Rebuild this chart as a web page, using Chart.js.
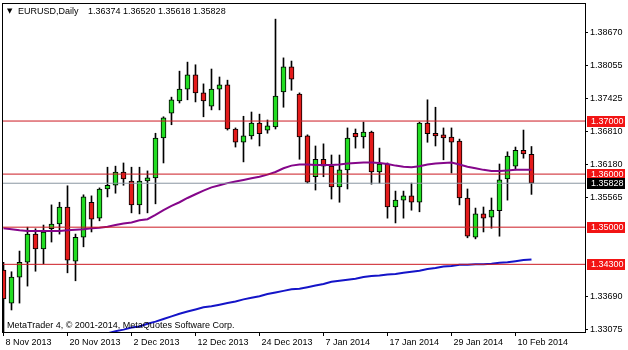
<!DOCTYPE html>
<html><head><meta charset="utf-8">
<script src="https://cdn.jsdelivr.net/npm/chart.js@4.4.1/dist/chart.umd.min.js"></script>
<style>html,body{margin:0;padding:0;background:#fff;overflow:hidden}#wrap{width:628px;height:350px}</style>
</head><body><div id="wrap"><canvas id="c" width="628" height="350"></canvas></div>
<script>
const symbol = "EURUSD,Daily";
const copyright = "MetaTrader 4, \u00a9 2001-2014, MetaQuotes Software Corp.";
const categories = ["8 Nov 2013","11 Nov 2013","12 Nov 2013","13 Nov 2013","14 Nov 2013","15 Nov 2013","18 Nov 2013","19 Nov 2013","20 Nov 2013","21 Nov 2013","22 Nov 2013","25 Nov 2013","26 Nov 2013","27 Nov 2013","28 Nov 2013","29 Nov 2013","2 Dec 2013","3 Dec 2013","4 Dec 2013","5 Dec 2013","6 Dec 2013","9 Dec 2013","10 Dec 2013","11 Dec 2013","12 Dec 2013","13 Dec 2013","16 Dec 2013","17 Dec 2013","18 Dec 2013","19 Dec 2013","20 Dec 2013","23 Dec 2013","24 Dec 2013","26 Dec 2013","27 Dec 2013","30 Dec 2013","31 Dec 2013","2 Jan 2014","3 Jan 2014","6 Jan 2014","7 Jan 2014","8 Jan 2014","9 Jan 2014","10 Jan 2014","13 Jan 2014","14 Jan 2014","15 Jan 2014","16 Jan 2014","17 Jan 2014","20 Jan 2014","21 Jan 2014","22 Jan 2014","23 Jan 2014","24 Jan 2014","27 Jan 2014","28 Jan 2014","29 Jan 2014","30 Jan 2014","31 Jan 2014","3 Feb 2014","4 Feb 2014","5 Feb 2014","6 Feb 2014","7 Feb 2014","10 Feb 2014","11 Feb 2014","12 Feb 2014"];
const tickLabels = ["8 Nov 2013","20 Nov 2013","2 Dec 2013","12 Dec 2013","24 Dec 2013","7 Jan 2014","17 Jan 2014","29 Jan 2014","10 Feb 2014"];
const opens  = [1.3419,1.3357,1.3406,1.3434,1.3487,1.3459,1.3497,1.3506,1.3538,1.3436,1.3481,1.3547,1.3517,1.3572,1.3579,1.3604,1.3587,1.3542,1.3587,1.3593,1.3668,1.3715,1.3738,1.3760,1.3787,1.3753,1.3728,1.3760,1.3768,1.3685,1.3660,1.3672,1.3696,1.3683,1.3689,1.3755,1.3802,1.3751,1.3672,1.3595,1.3628,1.3615,1.3576,1.3608,1.3677,1.3670,1.3679,1.3604,1.3619,1.3538,1.3551,1.3559,1.3547,1.3696,1.3677,1.3674,1.3670,1.3662,1.3555,1.3481,1.3525,1.3519,1.3531,1.3591,1.3615,1.3645,1.36374];
const highs  = [1.3434,1.3416,1.3455,1.3500,1.3497,1.3504,1.3542,1.3547,1.3578,1.3487,1.3561,1.3559,1.3574,1.3613,1.3615,1.3621,1.3613,1.3613,1.3606,1.3677,1.3708,1.3745,1.3794,1.3811,1.3806,1.3770,1.3798,1.3783,1.3777,1.3687,1.3709,1.3717,1.3713,1.3702,1.3892,1.3819,1.3813,1.3753,1.3674,1.3653,1.3657,1.3636,1.3636,1.3687,1.3685,1.3698,1.3681,1.3649,1.3621,1.3568,1.3568,1.3583,1.3698,1.3740,1.3726,1.3687,1.3687,1.3666,1.3572,1.3536,1.3538,1.3555,1.3619,1.3642,1.3651,1.3683,1.36520];
const lows   = [1.3296,1.3344,1.3357,1.3389,1.3417,1.3431,1.3472,1.3487,1.3414,1.3399,1.3463,1.3491,1.3512,1.3557,1.3564,1.3579,1.3527,1.3525,1.3527,1.3544,1.3621,1.3693,1.3734,1.3740,1.3736,1.3708,1.3721,1.3721,1.3683,1.3651,1.3623,1.3666,1.3653,1.3677,1.3685,1.3726,1.3758,1.3628,1.3583,1.3570,1.3595,1.3553,1.3547,1.3572,1.3649,1.3649,1.3581,1.3583,1.3517,1.3508,1.3517,1.3532,1.3529,1.3660,1.3653,1.3627,1.3602,1.3542,1.3480,1.3478,1.3491,1.3498,1.3483,1.3551,1.3608,1.3630,1.35618];
const closes = [1.3365,1.3406,1.3434,1.3487,1.3459,1.3491,1.3506,1.3538,1.3438,1.3481,1.3557,1.3515,1.3572,1.3579,1.3604,1.3591,1.3542,1.3587,1.3593,1.3668,1.3706,1.3740,1.3760,1.3787,1.3753,1.3738,1.3760,1.3768,1.3685,1.3660,1.3672,1.3696,1.3676,1.3691,1.3747,1.3802,1.3779,1.3670,1.3585,1.3628,1.3615,1.3576,1.3608,1.3668,1.3670,1.3679,1.3604,1.3619,1.3538,1.3551,1.3559,1.3547,1.3696,1.3676,1.3672,1.3668,1.3660,1.3555,1.3483,1.3525,1.3517,1.3532,1.3589,1.3634,1.3645,1.3638,1.35828];
const maPurple = [1.3498,1.3496,1.3494,1.3493,1.3493,1.3493,1.3493,1.3493,1.3494,1.3495,1.3496,1.3498,1.3499,1.3501,1.3504,1.3507,1.3509,1.3513,1.3515,1.3523,1.3532,1.3540,1.3547,1.3555,1.3562,1.3569,1.3575,1.3579,1.3583,1.3586,1.3589,1.3592,1.3595,1.3599,1.3604,1.3611,1.3616,1.3618,1.3618,1.3617,1.3617,1.3617,1.3618,1.3620,1.3621,1.3622,1.3622,1.3621,1.3619,1.3616,1.3614,1.3613,1.3615,1.3618,1.3620,1.3621,1.3622,1.3618,1.3614,1.3611,1.3608,1.3606,1.3606,1.3607,1.3608,1.3608,1.3608];
const maBlue = [null,null,null,null,null,null,null,null,null,null,null,null,1.3295,1.3300,1.3304,1.3307,1.3311,1.3313,1.3318,1.3322,1.3327,1.3332,1.3337,1.3341,1.3345,1.3349,1.3351,1.3354,1.3357,1.3360,1.3364,1.3367,1.3370,1.3374,1.3377,1.3380,1.3383,1.3384,1.3387,1.3390,1.3393,1.3397,1.3399,1.3401,1.3403,1.3406,1.3408,1.3409,1.3411,1.3412,1.3414,1.3416,1.3418,1.3421,1.3423,1.3426,1.3427,1.3429,1.3429,1.3430,1.3430,1.3431,1.3433,1.3434,1.3436,1.3438,1.3439];
const levels = [1.37000, 1.36000, 1.35000, 1.34300];
const priceTicks = [1.38670, 1.38055, 1.37425, 1.36810, 1.36180, 1.35565, 1.33690, 1.33075];

const X_MIN = -0.0625, X_MAX = 72.69, Y_MIN = 1.33025, Y_MAX = 1.39224;
const FONT = "'Liberation Sans', Arial, sans-serif";
const UP = '#22dd22', DOWN = '#e41b1b', LEVEL = '#cc1a22', BOX = '#f21414';
const last = closes.length - 1;
const bid = closes[last];

const idx = categories.map((_, i) => i);
const wickData = idx.map(i => ({x: i, y: [lows[i], highs[i]]}));
const bodyData = idx.map(i => ({x: i, y: [Math.min(opens[i], closes[i]), Math.max(opens[i], closes[i])]}));
const bodyColors = idx.map(i => closes[i] >= opens[i] ? UP : DOWN);
const hline = (v, color, order) => ({type: 'line', data: [{x: X_MIN, y: v}, {x: X_MAX, y: v}], borderColor: color, borderWidth: 1, pointRadius: 0, order});

Chart.defaults.font.family = FONT;
Chart.defaults.font.size = 9;
Chart.defaults.color = '#000';

const decor = {
  id: 'decor',
  afterDraw(chart) {
    const {ctx, chartArea: a, scales: {y}} = chart;
    ctx.save();
    ctx.strokeStyle = '#000'; ctx.lineWidth = 1;
    ctx.strokeRect(a.left - 0.5, a.top + 0.5, a.right - a.left + 1, a.bottom - a.top);
    // price boxes
    ctx.font = "9px " + FONT;
    ctx.textBaseline = 'middle'; ctx.textAlign = 'left';
    const box = (v, bg) => {
      const py = Math.round(y.getPixelForValue(v));
      ctx.fillStyle = bg; ctx.fillRect(a.right + 2, py - 5, 38, 11);
      ctx.fillStyle = '#fff'; ctx.fillText(v.toFixed(5), a.right + 6, py + 0.5);
    };
    levels.forEach(v => box(v, BOX));
    box(bid, '#000');
    // title
    ctx.fillStyle = '#000';
    ctx.textBaseline = 'alphabetic';
    ctx.font = "7px 'DejaVu Sans'";
    ctx.fillText('\u25BC', a.left + 4, a.top + 10);
    ctx.font = "9px " + FONT;
    ctx.fillText(symbol, a.left + 15, a.top + 11);
    ctx.fillText([opens[last], highs[last], lows[last], closes[last]].map(v => v.toFixed(5)).join(' '), a.left + 85, a.top + 11);
    ctx.fillText(copyright, a.left + 4, a.bottom - 4);
    ctx.restore();
  }
};

new Chart(document.getElementById('c'), {
  type: 'bar',
  data: {
    datasets: [
      hline(levels[0], LEVEL, 0), hline(levels[1], LEVEL, 0), hline(levels[2], LEVEL, 0), hline(levels[3], LEVEL, 0),
      hline(bid, '#8a96a2', 0),
      {type: 'line', data: idx.map(i => ({x: i, y: maPurple[i]})), borderColor: '#85068a', borderWidth: 2, pointRadius: 0, tension: 0, order: 1},
      {type: 'line', data: idx.map(i => ({x: i, y: maBlue[i]})), borderColor: '#1414c8', borderWidth: 2, pointRadius: 0, tension: 0, order: 1},
      {type: 'bar', data: bodyData, backgroundColor: bodyColors, borderColor: '#000', borderWidth: 1, borderSkipped: false, barThickness: 5, grouped: false, order: 2},
      {type: 'bar', data: wickData, backgroundColor: '#000', borderWidth: 0, barThickness: 1, grouped: false, order: 3}
    ]
  },
  options: {
    responsive: false, animation: false, devicePixelRatio: 1,
    layout: {padding: {top: 3, left: 3, right: 0, bottom: 0}},
    plugins: {legend: {display: false}, tooltip: {enabled: false}},
    scales: {
      x: {
        type: 'linear', min: X_MIN, max: X_MAX, offset: false, bounds: 'data',
        grid: {drawOnChartArea: false, drawTicks: true, tickLength: 4, color: '#000', offset: false},
        border: {display: false},
        ticks: {autoSkip: false, maxRotation: 0, align: 'start', labelOffset: 2, padding: 1,
          callback: v => categories[v]},
        afterBuildTicks: s => { s.ticks = tickLabels.map(l => ({value: categories.indexOf(l)})); },
        afterFit: s => { s.height = 18; s.paddingLeft = 0; s.paddingRight = 0; }
      },
      y: {
        type: 'linear', position: 'right', min: Y_MIN, max: Y_MAX, bounds: 'data',
        grid: {drawOnChartArea: false, drawTicks: true, tickLength: 3, color: '#000'},
        border: {display: false},
        ticks: {autoSkip: false, padding: 2, callback: v => v.toFixed(5)},
        afterBuildTicks: s => { s.ticks = priceTicks.map(v => ({value: v})); },
        afterFit: s => { s.width = 43; s.paddingTop = 0; s.paddingBottom = 0; }
      }
    }
  },
  plugins: [decor]
});
</script></body></html>
